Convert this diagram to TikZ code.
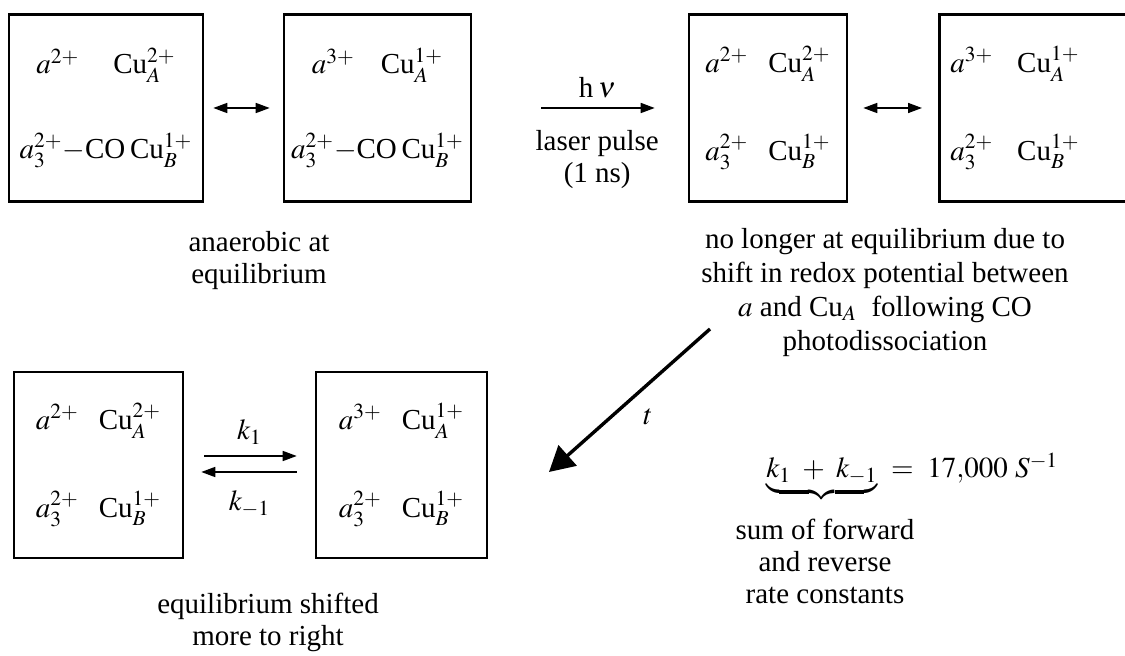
\documentclass[tikz,border=0pt]{standalone}
\usepackage{mathptmx}
\usepackage[no-math]{fontspec}
\setmainfont{Liberation Serif}
\usetikzlibrary{arrows.meta,positioning}

\newcommand{\figfont}{\fontsize{14.5}{16}\selectfont}
% two by two grid of oxidation states
\newcommand{\redox}[5][10pt]{\begin{tabular}{@{}l@{\hspace{#1}}l@{}}#2&#3\\[26pt]#4&#5\end{tabular}}

\begin{document}
\begin{tikzpicture}[
  x=0.5pt,y=-0.5pt,
  font=\figfont,
  redoxbox/.style={draw,line width=1.3pt,inner sep=0pt,minimum height=93.5pt,align=center},
  fwd/.style={-{Triangle[length=7pt,width=5pt]},line width=0.8pt},
  both/.style={{Triangle[length=7pt,width=5pt]}-{Triangle[length=7pt,width=5pt]},line width=0.8pt},
  lbl/.style={align=center,inner sep=0pt},
]
\useasboundingbox (0,0) rectangle (1125,656);
\clip (0,0) rectangle (1125,656);

% top row
\node[redoxbox,minimum width=97pt] (s1) at (106,108) {$a^{2+}$\hspace{17pt}Cu$_A^{2+}$\\[24pt]$a_3^{2+}{-}$CO\,Cu$_B^{1+}$};
\node[redoxbox,minimum width=93.5pt] (s2) at (377.5,108) {$a^{3+}$\hspace{13pt}Cu$_A^{1+}$\\[24pt]$a_3^{2+}{-}$CO\,Cu$_B^{1+}$};
\node[redoxbox,minimum width=79pt] (s3) at (768,108) {\redox{$a^{2+}$}{Cu$_A^{2+}$}{$a_3^{2+}$}{Cu$_B^{1+}$}};
\node[redoxbox,anchor=west,text width=100pt,align=left,inner xsep=5.5pt] (s4) at (938,108) {\redox[12pt]{$a^{3+}$}{Cu$_A^{1+}$}{$a_3^{2+}$}{Cu$_B^{1+}$}};

\draw[both,shorten <=4.5pt,shorten >=6.5pt] (s1) -- (s2);
\draw[fwd,shorten <=34.5pt,shorten >=16.5pt] (s2) -- node[lbl,pos=0.58,above=4.5pt] (hnu) {h\,$\nu$} node[lbl,pos=0.58,below=11pt] (pulse) {laser pulse\\(1 ns)} (s3);
\draw[both,shorten <=7.5pt,shorten >=8pt] (s3) -- (s4);

\node[lbl,anchor=north] (anaer) at (259,231) {anaerobic at\\equilibrium};
\node[lbl,anchor=north,font=\fontsize{14.5}{17}\selectfont] (nolong) at (885,228) {no longer at equilibrium due to\\shift in redox potential between\\$a$ and Cu$_A$~ following CO\\photodissociation};

% bottom row
\node[redoxbox,minimum width=84.5pt,minimum height=93pt] (s5) at (98.5,465) {\redox{$a^{2+}$}{Cu$_A^{2+}$}{$a_3^{2+}$}{Cu$_B^{1+}$}};
\node[redoxbox,minimum width=85.5pt,minimum height=93pt] (s6) at (401.5,465) {\redox{$a^{3+}$}{Cu$_A^{1+}$}{$a_3^{2+}$}{Cu$_B^{1+}$}};

\draw[fwd,shorten <=10pt,shorten >=9pt] ([yshift=4.5pt]s5.east) -- node[lbl,above=5.5pt] (k1) {$k_1$} ([yshift=4.5pt]s6.west);
\draw[fwd,shorten <=9pt,shorten >=8.5pt] ([yshift=-3.5pt]s6.west) -- node[lbl,below=9pt] (km1) {$k_{-1}$} ([yshift=-3.5pt]s5.east);

\coordinate (tfrom) at (710,329);
\coordinate (tto) at (549,472);
\draw[-{Triangle[length=12.5pt,width=13.5pt]},line width=1.7pt] (tfrom) -- (tto);
\node[lbl] (tlab) at (648,417) {$t$};

\node[anchor=base west,inner sep=0pt] (rate) at (766,478) {$\underbrace{k_1\ +\ k_{-1}}\ =\ 17{,}000\ S^{-1}$};
\node[lbl,anchor=north] (sumof) at (825,519) {sum of forward\\and reverse\\rate constants};
\node[lbl,anchor=north] (shifted) at (268,593) {equilibrium shifted\\more to right};
\end{tikzpicture}
\end{document}
